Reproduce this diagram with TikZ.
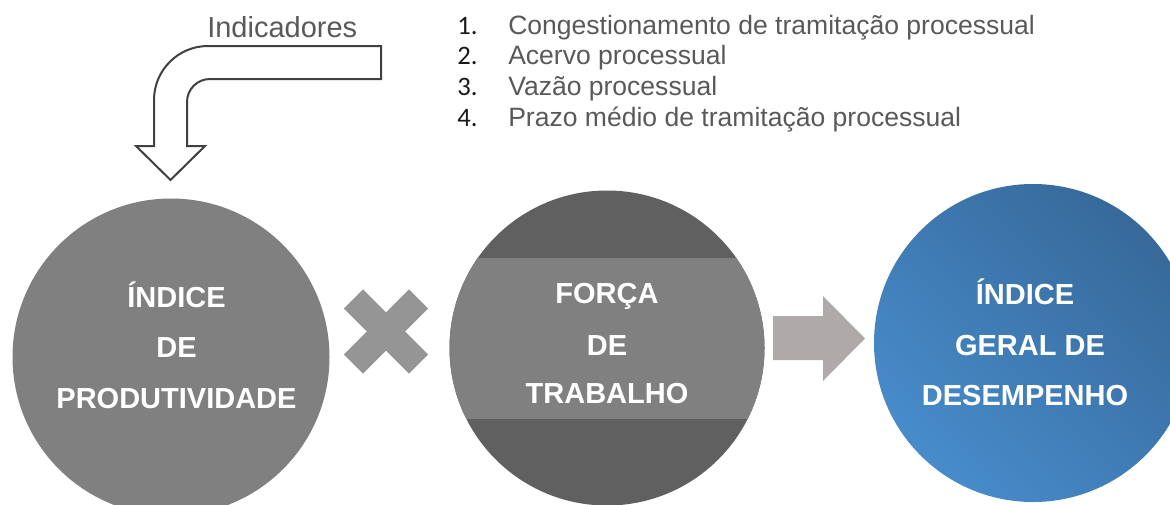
\documentclass[tikz,border=0pt]{standalone}
\usepackage{fontspec}
\setmainfont{Liberation Sans}
\newfontfamily\numfont{Carlito}
\usetikzlibrary{shadings}
\definecolor{cOne}{HTML}{808080}
\definecolor{cTwo}{HTML}{606060}
\definecolor{bandgray}{HTML}{808080}
\definecolor{xgray}{HTML}{959595}
\definecolor{agray}{HTML}{AEAAAA}
\definecolor{txtgray}{HTML}{595959}
\definecolor{outl}{HTML}{404040}
\definecolor{bLight}{HTML}{4B93D4}
\definecolor{bDark}{HTML}{33628F}
\definecolor{bMid}{HTML}{3F7AB3}
\begin{document}
\begin{tikzpicture}[x=0.75pt,y=-0.75pt,
  bigcirc/.style={circle, inner sep=0pt, minimum size=#1*0.75pt},
  ctext/.style={anchor=base, text=white, inner sep=0pt,
    font=\fontsize{21.75}{26}\selectfont\bfseries},
  ltext/.style={anchor=base west, text=txtgray, inner sep=0pt,
    font=\fontsize{19.9}{24}\selectfont},
  ntext/.style={anchor=base west, text=black!90, inner sep=0pt,
    font=\numfont\fontsize{20}{24}\selectfont},
  ttext/.style={anchor=base west, text=txtgray, inner sep=0pt,
    font=\fontsize{21.75}{26}\selectfont},
]
\useasboundingbox (0,0) rectangle (1170,504);
\clip (0,0) rectangle (1170,504);

% bent arrow
\draw[outl, line width=1.5pt, fill=white, line join=miter]
  (381,46) -- (208,46) .. controls (178.2,46) and (154,70.2) .. (154,100)
  -- (154,146) -- (136,146) -- (170.5,180) -- (205,146) -- (187,146)
  -- (187,102) .. controls (187,89.3) and (197.3,79) .. (210,79)
  -- (381,79) -- cycle;
\node[ttext] (ind) at (207,37) {Indicadores};

% list
\node[ntext] (n1) at (457,34.5) {1.};
\node[ntext] (n2) at (457,64.5) {2.};
\node[ntext] (n3) at (457,95) {3.};
\node[ntext] (n4) at (457,126) {4.};
\node[ltext] (l1) at (508,34.5) {Congestionamento de tramitação processual};
\node[ltext] (l2) at (508,64.5) {Acervo processual};
\node[ltext] (l3) at (508,95) {Vazão processual};
\node[ltext] (l4) at (508,126) {Prazo médio de tramitação processual};

% circle 1
\node[bigcirc=317, fill=cOne] (c1) at (171,357) {};
\node[ctext] (c1a) at (176.5,307) {ÍNDICE};
\node[ctext] (c1b) at (176.5,357) {DE};
\node[ctext] (c1c) at (176.5,408) {PRODUTIVIDADE};

% times sign
\fill[xgray, rotate around={45:(386,331.5)}] (340,318) rectangle (432,345);
\fill[xgray, rotate around={-45:(386,331.5)}] (340,318) rectangle (432,345);

% circle 2
\node[bigcirc=315, fill=cTwo] (c2) at (607,348) {};
\begin{scope}
  \clip (c2.center) circle[radius=157.5];
  \fill[bandgray] (440,258) rectangle (780,419);
\end{scope}
\node[ctext] (c2a) at (607,303) {FORÇA};
\node[ctext] (c2b) at (607,355) {DE};
\node[ctext] (c2c) at (607,403) {TRABALHO};

% right arrow
\fill[agray] (773,316) -- (823,316) -- (823,296) -- (865,338.5)
  -- (823,381) -- (823,360) -- (773,360) -- cycle;

% circle 3
\node[bigcirc=318, lower left=bLight, upper right=bDark,
  upper left=bMid, lower right=bMid] (c3) at (1033,343) {};
\node[ctext] (c3a) at (1025,304) {ÍNDICE};
\node[ctext] (c3b) at (1030,355) {GERAL DE};
\node[ctext] (c3c) at (1025,405) {DESEMPENHO};
\end{tikzpicture}
\end{document}
